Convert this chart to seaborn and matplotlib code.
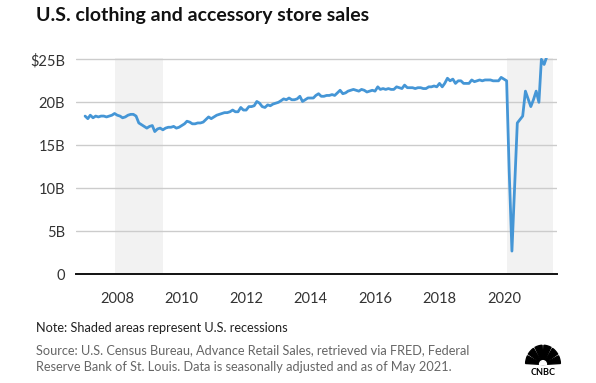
import pandas as pd
import matplotlib
matplotlib.use('Agg')
import matplotlib.pyplot as plt
from matplotlib.patches import Wedge
import seaborn as sns

# monthly clothing & accessory store sales, $ billions (Jan 2007 - May 2021)
sales_2007 = [18.4, 18.1, 18.5, 18.2, 18.4, 18.3, 18.4, 18.4, 18.3, 18.4, 18.5, 18.7]
sales_2008 = [18.5, 18.4, 18.2, 18.3, 18.5, 18.6, 18.6, 18.4, 17.6, 17.4, 17.2, 17.0]
sales_2009 = [17.2, 17.3, 16.6, 16.9, 17.0, 16.8, 17.0, 17.1, 17.1, 17.2, 17.0, 17.1]
sales_2010 = [17.3, 17.5, 17.8, 17.7, 17.5, 17.5, 17.6, 17.6, 17.7, 18.0, 18.3, 18.1]
sales_2011 = [18.3, 18.5, 18.6, 18.7, 18.8, 18.8, 18.9, 19.1, 18.9, 18.9, 19.4, 19.1]
sales_2012 = [19.1, 19.5, 19.5, 19.6, 20.1, 19.9, 19.5, 19.4, 19.7, 19.6, 19.8, 19.9]
sales_2013 = [20.0, 20.2, 20.4, 20.3, 20.5, 20.3, 20.3, 20.4, 20.7, 20.1, 20.3, 20.5]
sales_2014 = [20.5, 20.5, 20.8, 21.0, 20.7, 20.7, 20.8, 20.8, 20.9, 20.8, 21.1, 21.4]
sales_2015 = [21.0, 21.1, 21.3, 21.4, 21.5, 21.4, 21.3, 21.5, 21.4, 21.2, 21.3, 21.4]
sales_2016 = [21.3, 21.8, 21.5, 21.6, 21.5, 21.6, 21.5, 21.5, 21.8, 21.7, 21.6, 22.0]
sales_2017 = [21.7, 21.7, 21.7, 21.6, 21.7, 21.7, 21.6, 21.6, 21.8, 21.8, 21.9, 21.8]
sales_2018 = [22.2, 21.8, 22.2, 22.8, 22.5, 22.7, 22.2, 22.5, 22.5, 22.2, 22.2, 22.2]
sales_2019 = [22.6, 22.4, 22.5, 22.6, 22.5, 22.6, 22.6, 22.6, 22.5, 22.5, 22.5, 22.9]
sales_2020 = [22.7, 22.5, 12.0, 2.7, 10.0, 17.6, 18.0, 18.4, 21.3, 20.4, 19.5, 20.3]
sales_2021 = [21.3, 20.0, 25.0, 24.4, 25.3]

recession_starts = ['2007-12-01', '2020-02-01']
recession_ends = ['2009-06-01', '2021-07-05']

y_ticks = [0, 5, 10, 15, 20, 25]
y_labels = ['0', '5B', '10B', '15B', '20B', '$25B']
x_years = [2008, 2010, 2012, 2014, 2016, 2018, 2020]

values = (sales_2007 + sales_2008 + sales_2009 + sales_2010 + sales_2011 + sales_2012
          + sales_2013 + sales_2014 + sales_2015 + sales_2016 + sales_2017 + sales_2018
          + sales_2019 + sales_2020 + sales_2021)
df = pd.DataFrame({'date': pd.date_range('2007-01-01', periods=len(values), freq='MS'),
                   'sales': values})

sns.set_style('white')
plt.rcParams['font.family'] = ['Lato', 'DejaVu Sans']

fig = plt.figure(figsize=(5.96, 3.83), dpi=100)
ax = fig.add_axes([76 / 596, 1 - 274.3 / 383, 481 / 596, 216.7 / 383])

for s, e in zip(recession_starts, recession_ends):
    ax.axvspan(pd.Timestamp(s), pd.Timestamp(e), color='#f2f2f2', lw=0, zorder=0)

for t in y_ticks[1:]:
    ax.axhline(t, color='#cccccc', lw=1.0, zorder=1)

sns.lineplot(data=df, x='date', y='sales', ax=ax, color='#4596d6', lw=2.0, zorder=3)

ax.set_xlim(pd.Timestamp('2006-09-20'), pd.Timestamp('2021-08-25'))
ax.set_ylim(0, 25.2)
ax.set_yticks(y_ticks)
ax.set_yticklabels(y_labels)
ax.set_xticks([pd.Timestamp(f'{y}-01-01') for y in x_years])
ax.set_xticklabels([str(y) for y in x_years])
ax.set_xlabel('')
ax.set_ylabel('')

for side in ['top', 'right', 'left']:
    ax.spines[side].set_visible(False)
ax.spines['bottom'].set_color('#111111')
ax.spines['bottom'].set_linewidth(1.4)
ax.tick_params(axis='x', direction='out', length=5, width=1.2, color='#111111',
               labelsize=10.5, labelcolor='#333333', pad=8)
ax.tick_params(axis='y', length=0, labelsize=10.5, labelcolor='#333333', pad=8)

fig.text(36 / 596, 1 - 16 / 383, 'U.S. clothing and accessory store sales',
         fontsize=14, fontweight='bold', color='#111111', va='center', ha='left')

fig.text(36 / 596, 1 - 328 / 383, 'Note: Shaded areas represent U.S. recessions',
         fontsize=9.2, color='#222222', va='center', ha='left')
fig.text(36 / 596, 1 - 350 / 383,
         'Source: U.S. Census Bureau, Advance Retail Sales, retrieved via FRED, Federal',
         fontsize=9.2, color='#666666', va='center', ha='left')
fig.text(36 / 596, 1 - 367 / 383,
         'Reserve Bank of St. Louis. Data is seasonally adjusted and as of May 2021.',
         fontsize=9.2, color='#666666', va='center', ha='left')

# small peacock logo
lax = fig.add_axes([524 / 596, 1 - 382 / 383, 38 / 596, 42 / 383])
lax.set_xlim(-1.2, 1.2)
lax.set_ylim(-1.0, 1.4)
lax.axis('off')
for i in range(6):
    a0 = i * 30 + 3
    lax.add_patch(Wedge((0, 0), 1.1, a0, a0 + 24, color='black'))
lax.add_patch(Wedge((0, 0), 0.22, 0, 180, color='white'))
lax.text(0, -0.45, 'CNBC', ha='center', va='center', fontsize=6.5, fontweight='bold',
         color='black')

fig.savefig('out.png', dpi=100)
